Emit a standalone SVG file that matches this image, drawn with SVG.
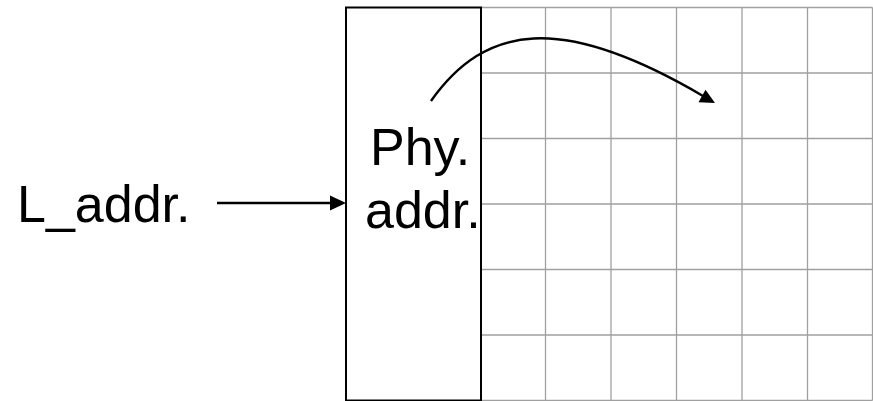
<svg xmlns="http://www.w3.org/2000/svg" width="873" height="401" viewBox="0 0 873 401">
<style>
.grid{stroke:#a0a0a0;stroke-width:1.3;fill:none}
.lbl{font-family:"Liberation Sans",Arial,sans-serif;font-size:52px;fill:#000}
.conn{stroke:#000;stroke-width:2.4;fill:none}
.head{fill:#000;stroke:none}
</style>
<rect width="873" height="401" fill="#fff"/>
<g id="grid" class="grid">
<path d="M481,7.5H872.5 M481,73H872.5 M481,138.5H872.5 M481,204H872.5 M481,269.5H872.5 M481,335H872.5 M481,400.5H872.5"/>
<path d="M545.5,7.5V400.5 M611,7.5V400.5 M676.5,7.5V400.5 M742,7.5V400.5 M807.5,7.5V400.5 M872.5,7.5V400.5"/>
</g>
<g id="memory">
<rect x="346" y="7.5" width="135" height="393" fill="none" stroke="#000" stroke-width="2"/>
</g>
<g id="phy">
<text class="lbl" x="370" y="165">Phy.</text>
<text class="lbl" x="365" y="228">addr.</text>
</g>
<g id="laddr">
<text class="lbl" x="17" y="222">L_addr.</text>
</g>
<g id="connectors">
<path class="conn" d="M217,203 H332"/>
<polygon class="head" points="346,203 330,195.5 330,210.5"/>
<path class="conn" d="M431,101 C485,25 560,12 703,96"/>
<polygon class="head" points="715,103 698.5,102.3 705.5,89.7"/>
</g>
</svg>
